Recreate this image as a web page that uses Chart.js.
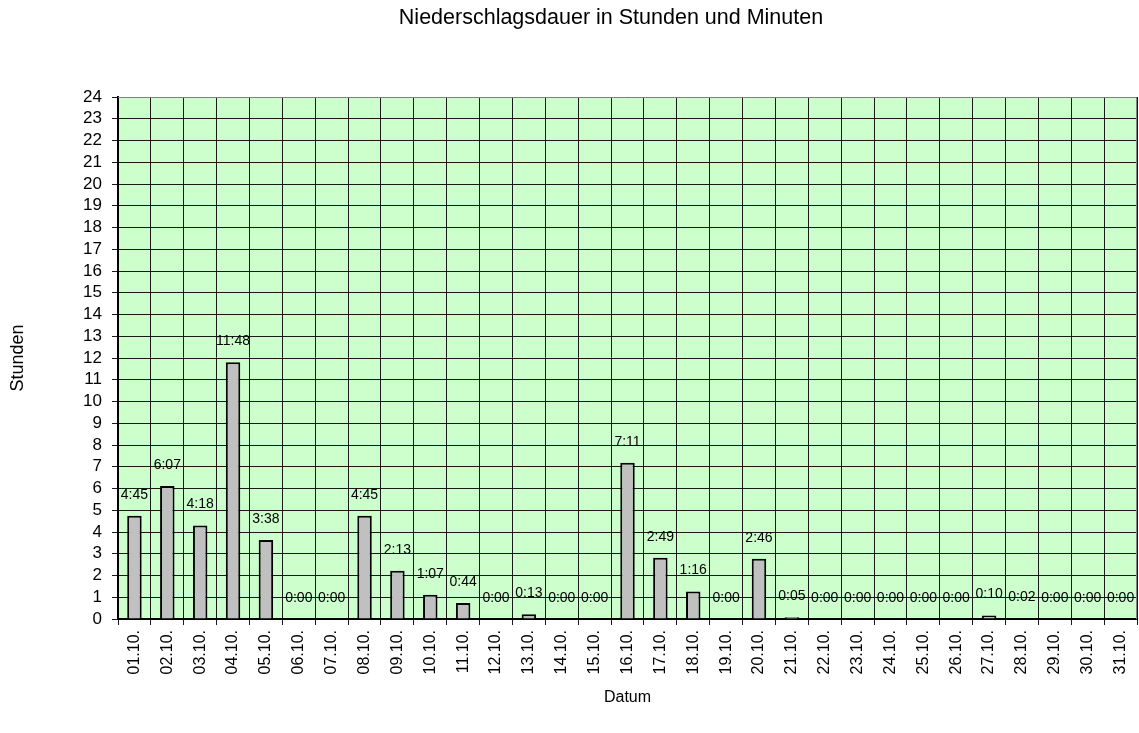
<!DOCTYPE html>
<html>
<head>
<meta charset="utf-8">
<script src="https://cdn.jsdelivr.net/npm/chart.js@4/dist/chart.umd.min.js"></script>
<style>
  html, body { margin: 0; padding: 0; background: #fff; }
  #wrap { width: 1139px; height: 733px; }
</style>
</head>
<body>
<div id="wrap"><canvas id="chart"></canvas></div>
<script>
var days = ['01.10.','02.10.','03.10.','04.10.','05.10.','06.10.','07.10.','08.10.','09.10.','10.10.',
            '11.10.','12.10.','13.10.','14.10.','15.10.','16.10.','17.10.','18.10.','19.10.','20.10.',
            '21.10.','22.10.','23.10.','24.10.','25.10.','26.10.','27.10.','28.10.','29.10.','30.10.','31.10.'];
// Niederschlagsdauer h:mm, wie im Diagramm beschriftet
var durations = ['4:45','6:07','4:18','11:48','3:38','0:00','0:00','4:45','2:13','1:07',
                 '0:44','0:00','0:13','0:00','0:00','7:11','2:49','1:16','0:00','2:46',
                 '0:05','0:00','0:00','0:00','0:00','0:00','0:10','0:02','0:00','0:00','0:00'];
var yMin = 0, yMax = 24, yStep = 1;
var chartTitle = 'Niederschlagsdauer in Stunden und Minuten';

// h:mm -> Stunden als Dezimalzahl
var hours = durations.map(function (d) {
  var p = d.split(':');
  return parseInt(p[0], 10) + parseInt(p[1], 10) / 60;
});

var fontFam = '"Liberation Sans", Arial, sans-serif';

var plotBg = {
  id: 'plotBg',
  beforeDraw: function (chart) {
    var a = chart.chartArea, ctx = chart.ctx;
    ctx.save();
    ctx.fillStyle = '#ccffcc';
    ctx.fillRect(a.left, a.top, a.right - a.left, a.bottom - a.top);
    ctx.restore();
  },
  afterDraw: function (chart) {
    var a = chart.chartArea, ctx = chart.ctx;
    ctx.save();
    ctx.strokeStyle = '#808080';
    ctx.lineWidth = 1;
    ctx.beginPath();
    ctx.moveTo(a.left, a.top + 0.5);
    ctx.lineTo(a.right - 0.5, a.top + 0.5);
    ctx.lineTo(a.right - 0.5, a.bottom);
    ctx.stroke();
    // Titel, leicht rechts der Mitte wie im Original
    ctx.font = '21.5px ' + fontFam;
    ctx.fillStyle = '#000';
    ctx.textAlign = 'center';
    ctx.textBaseline = 'middle';
    ctx.fillText(chartTitle, 611, 18);
    ctx.restore();
  }
};

var barLabels = {
  id: 'barLabels',
  afterDatasetsDraw: function (chart) {
    var ctx = chart.ctx;
    var meta = chart.getDatasetMeta(0);
    ctx.save();
    ctx.font = '14px ' + fontFam;
    ctx.fillStyle = '#000';
    ctx.textAlign = 'center';
    ctx.textBaseline = 'middle';
    meta.data.forEach(function (bar, i) {
      ctx.fillText(durations[i], bar.x, bar.y - 21);
    });
    ctx.restore();
  }
};

new Chart(document.getElementById('chart'), {
  type: 'bar',
  data: {
    labels: days,
    datasets: [{
      data: hours,
      backgroundColor: '#c0c0c0',
      borderColor: '#000',
      borderWidth: 2,
      categoryPercentage: 1.0,
      barPercentage: 0.44
    }]
  },
  options: {
    responsive: true,
    maintainAspectRatio: false,
    animation: false,
    layout: { padding: { left: 0, right: 2, top: 97, bottom: 0 } },
    plugins: {
      legend: { display: false },
      tooltip: { enabled: false },
      title: { display: false }
    },
    scales: {
      x: {
        afterFit: function (s) { s.height = 114; s.paddingLeft = 0; s.paddingRight = 0; },
        grid: { color: '#1a1a1a', lineWidth: 1, tickLength: 6, offset: true },
        border: { color: '#000', width: 2 },
        ticks: {
          color: '#000',
          font: { family: fontFam, size: 16 },
          maxRotation: 90, minRotation: 90,
          autoSkip: false,
          padding: 5
        },
        title: {
          display: true, text: 'Datum', color: '#000',
          font: { family: fontFam, size: 16 },
          padding: { top: 0, bottom: 26 }
        }
      },
      y: {
        min: yMin, max: yMax,
        afterFit: function (s) { s.width = 118; s.paddingTop = 0; s.paddingBottom = 0; },
        grid: { color: '#1a1a1a', lineWidth: 1, tickLength: 6 },
        border: { color: '#000', width: 2 },
        ticks: {
          stepSize: yStep,
          autoSkip: false,
          color: '#000',
          font: { family: fontFam, size: 17 },
          padding: 10
        },
        title: {
          display: true, text: 'Stunden', color: '#000',
          font: { family: fontFam, size: 18 },
          padding: { top: 7, bottom: 0 }
        }
      }
    }
  },
  plugins: [plotBg, barLabels]
});
</script>
</body>
</html>
